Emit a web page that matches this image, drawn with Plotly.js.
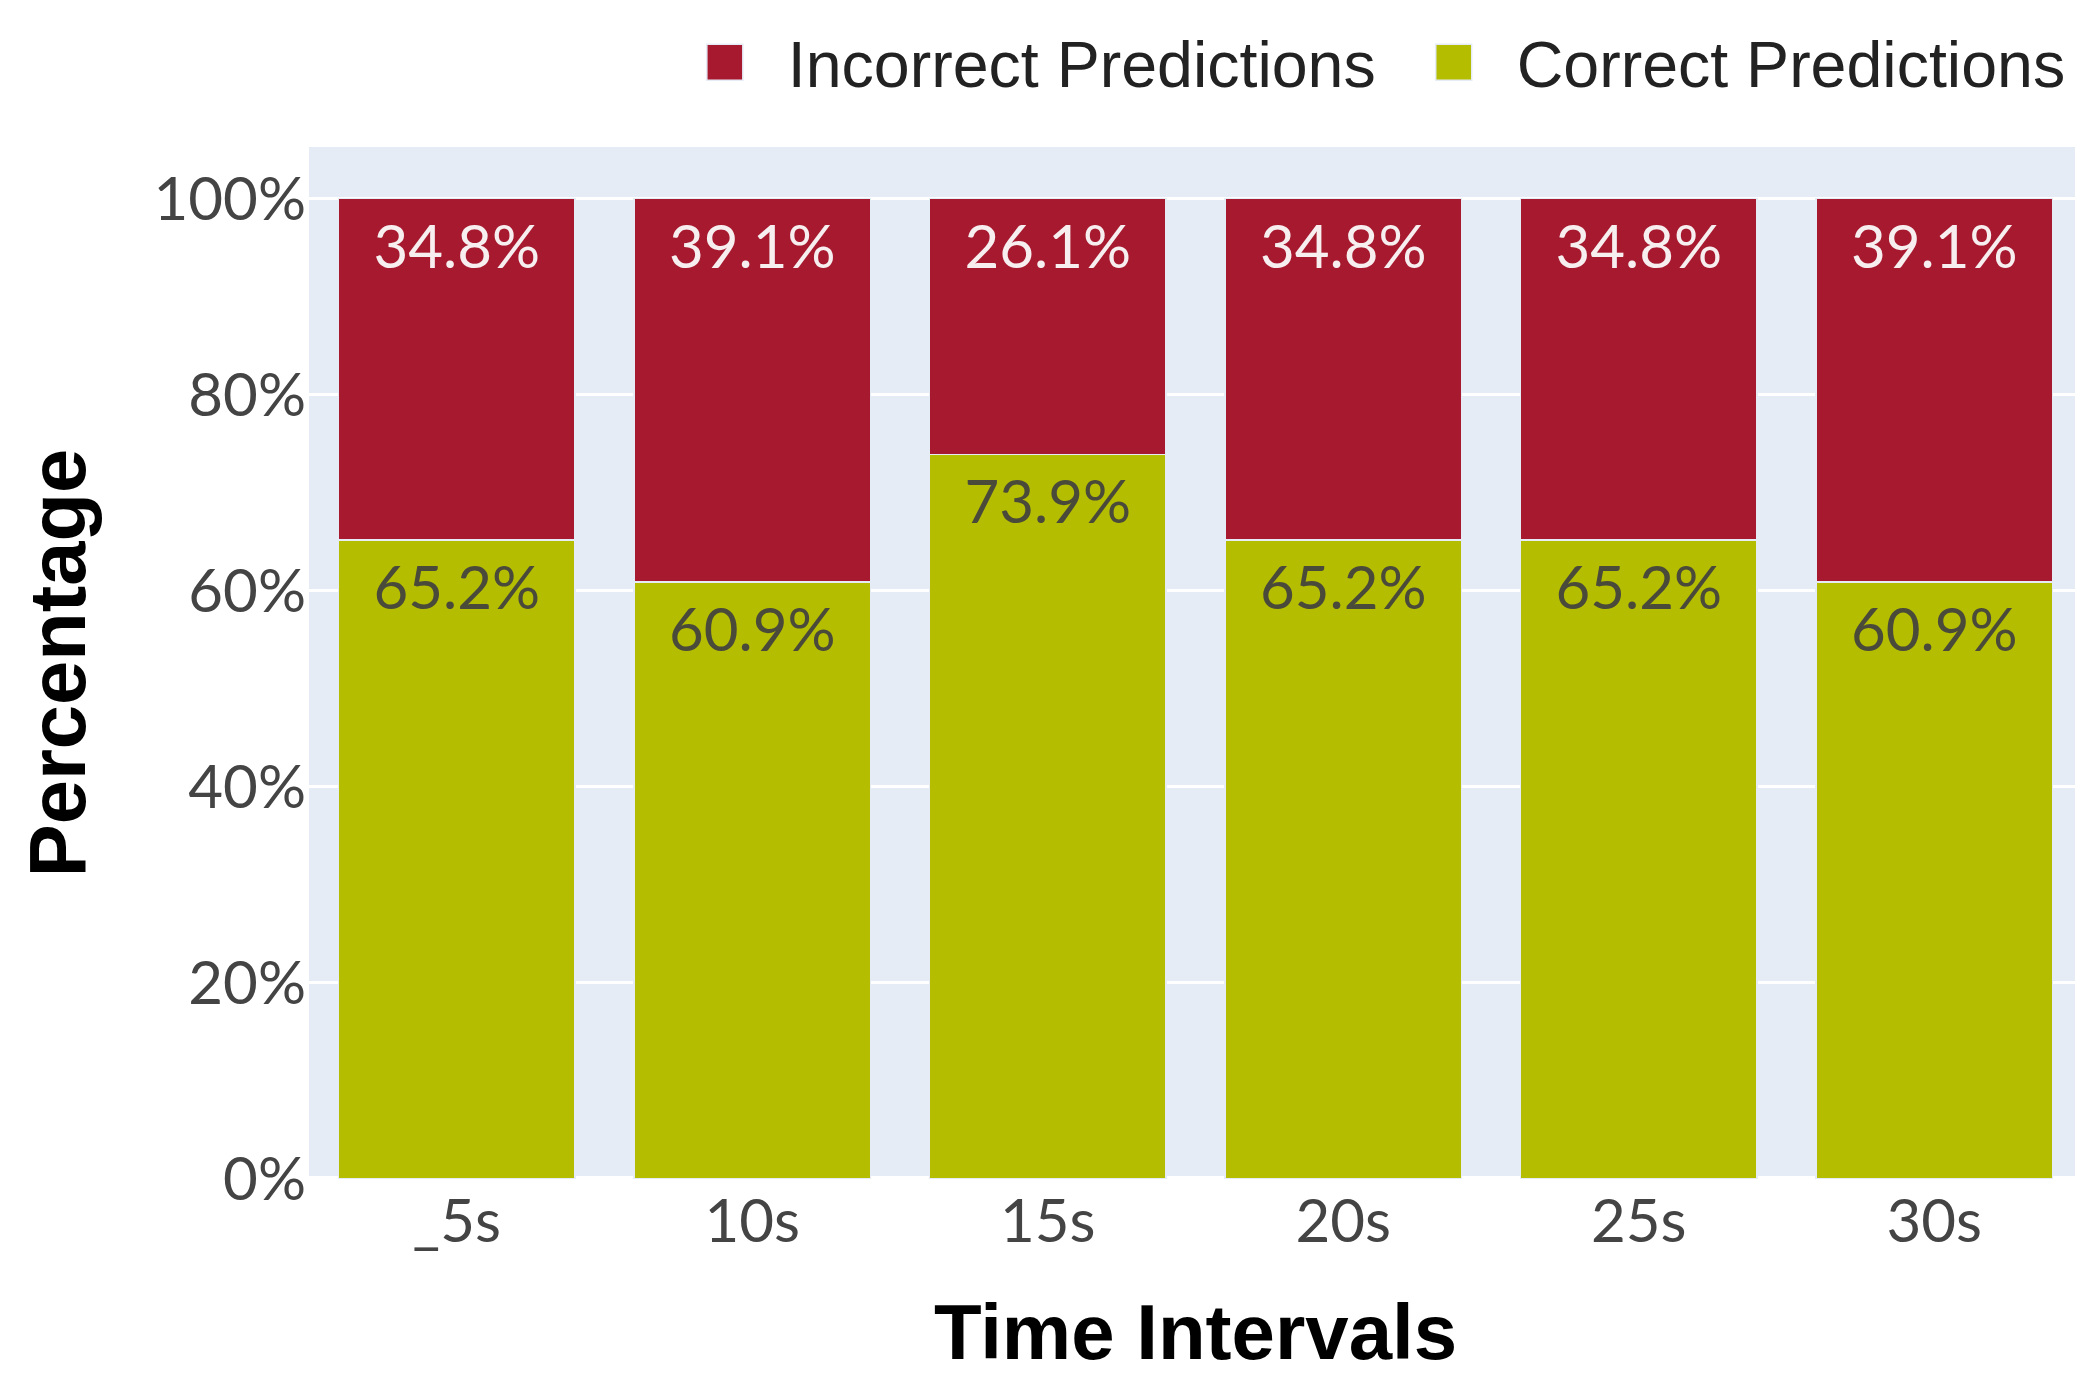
<!DOCTYPE html>
<html>
<head>
<meta charset="utf-8">
<script src="https://cdn.plot.ly/plotly-3.0.1.min.js"></script>
<style>
  html, body { margin: 0; padding: 0; background: #ffffff; overflow: hidden; }
  #wrap { width: 2075px; height: 1376px; overflow: hidden; position: relative; background: #ffffff; }
  #chart { width: 700px; height: 459px; transform: scale(3); transform-origin: 0 0; position: absolute; left: 0; top: 0; }
</style>
</head>
<body>
<div id="wrap"><div id="chart"></div></div>
<script>
// ---- data ----
const categories = ['_5s', '10s', '15s', '20s', '25s', '30s'];
const correctPct = [65.2, 60.9, 73.9, 65.2, 65.2, 60.9];
const incorrectPct = [34.8, 39.1, 26.1, 34.8, 34.8, 39.1];
const seriesNames = ['Correct Predictions', 'Incorrect Predictions'];
const yTickVals = [0, 20, 40, 60, 80, 100];
const yTickText = ['0%', '20%', '40%', '60%', '80%', '100%'];

const fmt = v => v.toFixed(1) + '%';
const barLine = { color: '#E5ECF6', width: 0.5 };

const traces = [
  {
    type: 'bar', name: seriesNames[0], x: categories, y: correctPct,
    text: correctPct.map(fmt), textposition: 'inside', insidetextanchor: 'end',
    textangle: 0, constraintext: 'none',
    textfont: { family: 'Lato, "Open Sans", sans-serif', size: 20, color: '#4a4a3a' },
    marker: { color: '#B5BD00', line: barLine },
    hoverinfo: 'x+y+name'
  },
  {
    type: 'bar', name: seriesNames[1], x: categories, y: incorrectPct,
    text: incorrectPct.map(fmt), textposition: 'inside', insidetextanchor: 'end',
    textangle: 0, constraintext: 'none',
    textfont: { family: 'Lato, "Open Sans", sans-serif', size: 20, color: '#f7eef0' },
    marker: { color: '#A6192E', line: barLine },
    hoverinfo: 'x+y+name'
  }
];

const layout = {
  width: 700, height: 459,
  margin: { l: 103, r: 6, t: 49, b: 66, pad: 0, autoexpand: false },
  paper_bgcolor: '#ffffff',
  plot_bgcolor: '#E5ECF6',
  barmode: 'stack',
  bargap: 0.2,
  showlegend: true,
  legend: {
    orientation: 'h', traceorder: 'reversed',
    x: 0.199, xanchor: 'left', y: 1.082, yanchor: 'middle',
    itemwidth: 32,
    font: { family: '"Liberation Sans", Arial, sans-serif', size: 21.5, color: '#222222' },
    bgcolor: 'rgba(0,0,0,0)'
  },
  xaxis: {
    type: 'category', automargin: false,
    showgrid: false, ticks: '', showline: false,
    tickfont: { family: 'Lato, "Open Sans", sans-serif', size: 20, color: '#444444' },
    title: { text: 'Time Intervals', standoff: 18,
             font: { family: '"Liberation Sans", Arial, sans-serif', size: 26, color: '#000000', weight: 'bold' } }
  },
  yaxis: {
    automargin: false, range: [0, 105.26],
    tickmode: 'array', tickvals: yTickVals, ticktext: yTickText,
    showgrid: true, gridcolor: '#ffffff', gridwidth: 1,
    zeroline: true, zerolinecolor: '#ffffff', zerolinewidth: 2,
    ticks: '', showline: false,
    tickfont: { family: 'Lato, "Open Sans", sans-serif', size: 20, color: '#444444' },
    title: { text: 'Percentage', standoff: 14,
             font: { family: '"Liberation Sans", Arial, sans-serif', size: 26.5, color: '#000000', weight: 'bold' } }
  }
};

Plotly.newPlot('chart', traces, layout, { displayModeBar: false });
</script>
</body>
</html>
